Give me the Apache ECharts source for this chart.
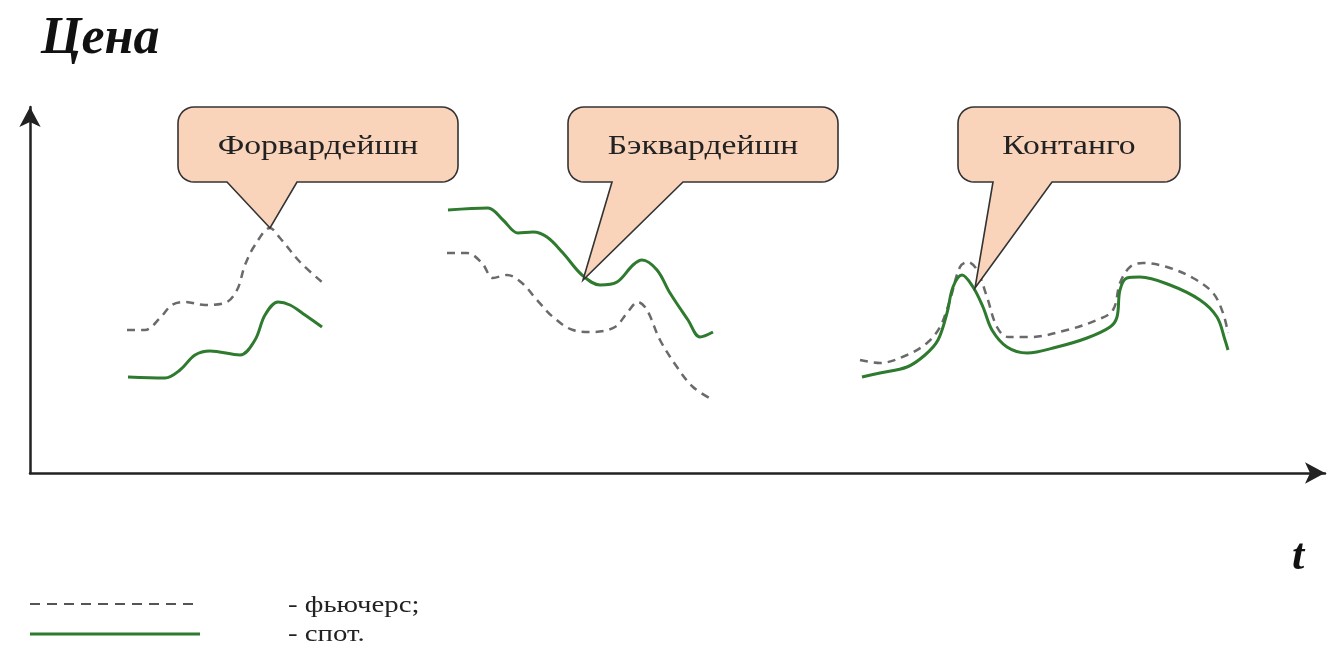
<!DOCTYPE html>
<html>
<head>
<meta charset="utf-8">
<script src="https://cdn.jsdelivr.net/npm/echarts@6/dist/echarts.min.js"></script>
<style>html,body{margin:0;padding:0;background:#fff}#c{width:1340px;height:658px}</style>
</head>
<body>
<div id="c"></div>
<script>
// Values: x = time units from the origin, y = price units above the time axis
const futures1 = [[97,143],[115,143],[130,155],[142,168],[155,171],[175,168],[195,170],[207,183],[215,208],[225,228],[240,245],[250,235],[270,211],[292,191]];
const spot1 = [[98,96],[135,95],[150,103],[165,118],[180,122],[210,118],[225,133],[235,158],[248,171],[260,168],[275,158],[292,146]];
const futures2 = [[417,220],[437,220],[452,210],[463,195],[477,198],[492,190],[507,173],[523,156],[543,143],[563,141],[585,146],[597,160],[608,171],[617,163],[630,133],[647,106],[663,86],[683,73]];
const spot2 = [[418,263],[458,265],[473,253],[488,240],[503,241],[517,236],[533,220],[552,198],[570,188],[587,191],[603,208],[612,213],[627,203],[640,180],[658,153],[670,136],[683,141]];
const futures3 = [[830,113],[850,110],[877,118],[897,130],[910,146],[920,173],[930,206],[938,211],[947,203],[957,176],[967,146],[978,136],[1000,136],[1037,143],[1067,153],[1083,163],[1090,190],[1100,206],[1113,210],[1137,206],[1163,195],[1183,180],[1193,160],[1198,140]];
const spot3 = [[832,96],[850,100],[877,106],[895,118],[908,133],[917,160],[923,186],[932,198],[943,186],[953,166],[962,143],[977,126],[997,120],[1027,126],[1057,135],[1080,146],[1087,156],[1090,183],[1097,195],[1110,196],[1140,188],[1170,173],[1187,156],[1195,133],[1198,123]];

const calloutLabels = ['Форвардейшн', 'Бэквардейшн', 'Контанго'];
// tip of each callout pointer (data units)
const calloutTips = [[240,245],[553,193],[945,185]];
// box: [xLeft, xRight, yTop, yBottom, pointerBaseLeft, pointerBaseRight] (data units)
const calloutBoxes = [[148,428,366,291,197,267],[538,808,366,291,582,653],[928,1150,366,291,963,1022]];

const legendLabels = ['- фьючерс;', '- спот.'];

const GREEN = '#2e7a2e', GREY = '#6a6a6a';
const serif = "'Liberation Serif','DejaVu Serif',serif";

function futSeries(data){return {type:'line',data:data,smooth:0.35,symbol:'none',
  lineStyle:{color:GREY,width:2.5,type:[8,6]},itemStyle:{color:GREY},z:3};}
function spotSeries(data){return {type:'line',data:data,smooth:0.35,symbol:'none',
  lineStyle:{color:GREEN,width:3},itemStyle:{color:GREEN},z:4};}

const chart = echarts.init(document.getElementById('c'), null, {renderer:'canvas'});
const axisCommon = {
  axisLine:{show:true,symbol:['none','arrow'],symbolSize:[16,20],lineStyle:{color:'#222',width:2.5}},
  axisTick:{show:false},axisLabel:{show:false},splitLine:{show:false}
};
chart.setOption({
  animation:false,
  backgroundColor:'#fff',
  title:{text:'Цена',left:36,top:9,textStyle:{fontFamily:serif,fontStyle:'italic',fontWeight:'bold',fontSize:52,color:'#111'}},
  grid:{left:30,right:15,top:107,bottom:185},
  xAxis:Object.assign({type:'value',min:0,max:1295},axisCommon),
  yAxis:Object.assign({type:'value',min:0,max:366},axisCommon),
  series:[futSeries(futures1),futSeries(futures2),futSeries(futures3),spotSeries(spot1),spotSeries(spot2),spotSeries(spot3)]
});

function px(p){return chart.convertToPixel({gridIndex:0},p);}
function arc(pts,cx,cy,r,a0,a1){
  for(let k=0;k<=8;k++){const a=(a0+(a1-a0)*k/8)*Math.PI/180;pts.push([cx+r*Math.cos(a),cy+r*Math.sin(a)]);}
}
const graphics = [];
calloutBoxes.forEach(function(b,i){
  const tl = px([b[0],b[2]]), br = px([b[1],b[3]]);
  const bl = px([b[4],b[3]])[0], bRt = px([b[5],b[3]])[0];
  const t = px(calloutTips[i]);
  const x0=tl[0],y0=tl[1],x1=br[0],y1=br[1],r=16;
  const pts=[];
  arc(pts,x0+r,y0+r,r,180,270);
  arc(pts,x1-r,y0+r,r,270,360);
  arc(pts,x1-r,y1-r,r,0,90);
  pts.push([bRt,y1],[t[0],t[1]],[bl,y1]);
  arc(pts,x0+r,y1-r,r,90,180);
  graphics.push({type:'polygon',shape:{points:pts},style:{fill:'#f9d4bb',stroke:'#333',lineWidth:1.6,lineJoin:'miter'},z:10});
  graphics.push({type:'text',x:(x0+x1)/2,y:(y0+y1)/2+2,scaleX:1.2,z:11,
    style:{text:calloutLabels[i],font:'28px '+serif,fill:'#222',align:'center',verticalAlign:'middle'}});
});
// legend
graphics.push({type:'line',shape:{x1:30,y1:604,x2:200,y2:604},style:{stroke:'#555',lineWidth:2,lineDash:[10,7]},z:11});
graphics.push({type:'line',shape:{x1:30,y1:634,x2:200,y2:634},style:{stroke:GREEN,lineWidth:3},z:11});
graphics.push({type:'text',x:288,y:606,scaleX:1.2,z:11,style:{text:legendLabels[0],font:'24px '+serif,fill:'#222',align:'left',verticalAlign:'middle'}});
graphics.push({type:'text',x:288,y:635,scaleX:1.2,z:11,style:{text:legendLabels[1],font:'24px '+serif,fill:'#222',align:'left',verticalAlign:'middle'}});
graphics.push({type:'text',x:1298,y:558,z:11,style:{text:'t',font:'italic bold 44px '+serif,fill:'#111',align:'center',verticalAlign:'middle'}});
chart.setOption({graphic:graphics});
</script>
</body>
</html>
